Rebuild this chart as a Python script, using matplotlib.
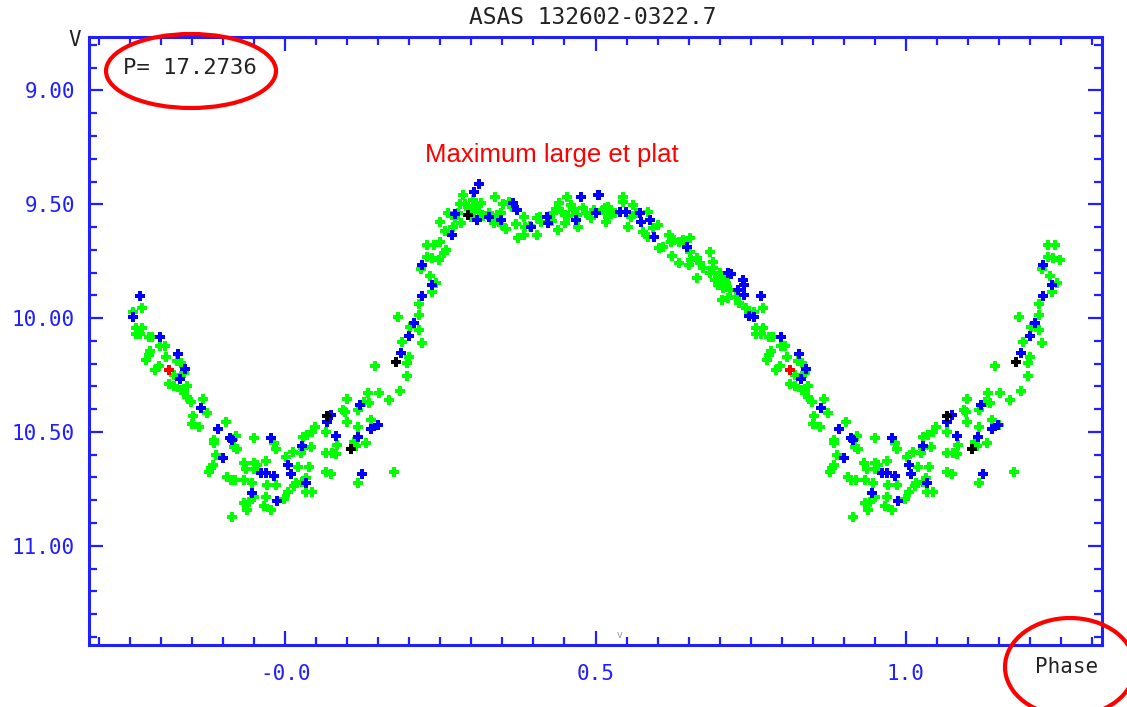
import matplotlib.pyplot as plt
import numpy as np
from matplotlib.patches import Ellipse

# phase-folded points (phase in [0, 1), V magnitude)
green_pts = [
    (0.002, 10.609), (0.005, 10.763), (0.012, 10.587), (0.015, 10.737), (0.017, 10.726),
    (0.020, 10.653), (0.025, 10.594), (0.027, 10.719), (0.028, 10.572), (0.028, 10.521),
    (0.033, 10.704), (0.034, 10.763), (0.036, 10.513), (0.038, 10.653), (0.041, 10.565),
    (0.044, 10.763), (0.044, 10.499), (0.048, 10.477), (0.066, 10.499), (0.066, 10.594),
    (0.066, 10.675), (0.074, 10.685), (0.076, 10.594), (0.082, 10.597), (0.084, 10.557),
    (0.094, 10.404), (0.097, 10.411), (0.099, 10.357), (0.099, 10.455), (0.111, 10.543),
    (0.114, 10.562), (0.118, 10.477), (0.118, 10.404), (0.118, 10.723), (0.127, 10.367),
    (0.131, 10.547), (0.133, 10.330), (0.135, 10.374), (0.138, 10.448), (0.144, 10.210),
    (0.150, 10.470), (0.152, 10.327), (0.168, 10.360), (0.175, 10.676), (0.182, 9.993),
    (0.185, 10.319), (0.189, 10.103), (0.196, 10.253), (0.197, 10.198), (0.200, 10.169),
    (0.201, 10.040), (0.215, 10.052), (0.215, 9.986), (0.215, 9.938), (0.219, 9.785),
    (0.220, 10.110), (0.229, 9.732), (0.229, 9.678), (0.233, 9.815), (0.236, 9.884),
    (0.237, 9.737), (0.240, 9.678), (0.243, 9.847), (0.248, 9.744), (0.250, 9.664),
    (0.250, 9.576), (0.256, 9.715), (0.258, 9.617), (0.259, 9.700), (0.262, 9.539),
    (0.270, 9.598), (0.273, 9.561), (0.278, 9.539), (0.281, 9.498), (0.284, 9.583),
    (0.286, 9.458), (0.290, 9.500), (0.297, 9.520), (0.300, 9.554), (0.302, 9.480),
    (0.305, 9.532), (0.308, 9.510), (0.313, 9.532), (0.315, 9.495), (0.318, 9.550),
    (0.329, 9.539), (0.331, 9.561), (0.337, 9.583), (0.338, 9.466), (0.342, 9.546),
    (0.347, 9.539), (0.350, 9.590), (0.351, 9.498), (0.356, 9.609), (0.361, 9.492),
    (0.365, 9.513), (0.372, 9.586), (0.375, 9.649), (0.385, 9.634), (0.385, 9.554),
    (0.387, 9.598), (0.394, 9.595), (0.406, 9.561), (0.406, 9.634), (0.410, 9.554),
    (0.412, 9.576), (0.426, 9.568), (0.430, 9.575), (0.431, 9.539), (0.437, 9.521),
    (0.439, 9.612), (0.442, 9.495), (0.446, 9.532), (0.451, 9.583), (0.454, 9.466),
    (0.455, 9.550), (0.461, 9.502), (0.463, 9.521), (0.470, 9.545), (0.472, 9.598),
    (0.480, 9.517), (0.485, 9.539), (0.493, 9.561), (0.498, 9.524), (0.512, 9.524),
    (0.515, 9.517), (0.517, 9.576), (0.520, 9.510), (0.520, 9.554), (0.525, 9.532),
    (0.531, 9.539), (0.544, 9.466), (0.544, 9.488), (0.552, 9.598), (0.557, 9.554),
    (0.560, 9.502), (0.565, 9.539), (0.576, 9.620), (0.584, 9.532), (0.584, 9.642),
    (0.592, 9.605), (0.600, 9.590), (0.603, 9.693), (0.609, 9.686), (0.619, 9.634),
    (0.622, 9.664), (0.623, 9.727), (0.627, 9.656), (0.635, 9.664), (0.635, 9.756),
    (0.641, 9.656), (0.651, 9.766), (0.652, 9.649), (0.652, 9.708), (0.654, 9.744),
    (0.663, 9.737), (0.664, 9.825), (0.668, 9.759), (0.673, 9.781), (0.684, 9.708),
    (0.684, 9.803), (0.689, 9.752), (0.689, 9.781), (0.692, 9.832), (0.697, 9.854),
    (0.700, 9.803), (0.703, 9.825), (0.703, 9.920), (0.706, 9.869), (0.708, 9.832),
    (0.711, 9.847), (0.713, 9.913), (0.716, 9.876), (0.727, 9.906), (0.731, 9.935),
    (0.742, 9.956), (0.747, 9.978), (0.755, 9.974), (0.759, 10.042), (0.759, 10.071),
    (0.766, 10.071), (0.770, 9.954), (0.770, 10.042), (0.776, 10.184), (0.780, 10.081),
    (0.780, 10.162), (0.783, 10.143), (0.786, 10.081), (0.790, 10.228), (0.797, 10.209),
    (0.799, 10.121), (0.806, 10.121), (0.808, 10.172), (0.813, 10.290), (0.821, 10.250),
    (0.821, 10.298), (0.826, 10.190), (0.832, 10.198), (0.832, 10.316), (0.837, 10.242),
    (0.837, 10.330), (0.842, 10.298), (0.842, 10.348), (0.848, 10.367), (0.850, 10.467),
    (0.852, 10.430), (0.861, 10.477), (0.868, 10.355), (0.874, 10.418), (0.877, 10.675),
    (0.881, 10.660), (0.884, 10.645), (0.885, 10.535), (0.885, 10.550), (0.889, 10.600),
    (0.904, 10.458), (0.907, 10.697), (0.912, 10.711), (0.915, 10.875), (0.918, 10.565),
    (0.920, 10.711), (0.921, 10.516), (0.923, 10.576), (0.933, 10.635), (0.934, 10.711),
    (0.934, 10.814), (0.937, 10.664), (0.939, 10.843), (0.942, 10.807), (0.947, 10.723),
    (0.950, 10.525), (0.950, 10.635), (0.950, 10.664), (0.950, 10.785), (0.955, 10.645),
    (0.966, 10.826), (0.969, 10.626), (0.969, 10.785), (0.971, 10.733), (0.977, 10.843),
    (0.982, 10.550), (0.985, 10.576), (0.985, 10.733), (0.998, 10.796),
]

blue_pts = [
    (0.005, 10.645), (0.009, 10.685), (0.027, 10.562), (0.034, 10.726), (0.067, 10.455),
    (0.074, 10.426), (0.082, 10.518), (0.117, 10.521), (0.121, 10.382), (0.124, 10.685),
    (0.138, 10.488), (0.149, 10.470), (0.186, 10.152), (0.200, 10.077), (0.208, 10.022),
    (0.221, 9.902), (0.221, 9.766), (0.236, 9.854), (0.269, 9.637), (0.273, 9.543),
    (0.305, 9.448), (0.309, 9.571), (0.313, 9.410), (0.328, 9.554), (0.348, 9.571),
    (0.367, 9.495), (0.373, 9.527), (0.396, 9.601), (0.422, 9.554), (0.423, 9.583),
    (0.469, 9.568), (0.476, 9.469), (0.501, 9.539), (0.504, 9.458), (0.506, 9.458),
    (0.539, 9.532), (0.549, 9.532), (0.571, 9.539), (0.573, 9.576), (0.587, 9.568),
    (0.595, 9.642), (0.647, 9.686), (0.713, 9.803), (0.719, 9.806), (0.730, 9.876),
    (0.738, 9.832), (0.740, 9.854), (0.740, 9.898), (0.747, 9.990), (0.755, 9.996),
    (0.766, 9.902), (0.799, 10.081), (0.828, 10.157), (0.831, 10.267), (0.839, 10.225),
    (0.864, 10.396), (0.892, 10.486), (0.900, 10.616), (0.911, 10.528), (0.915, 10.535),
    (0.946, 10.770), (0.961, 10.682), (0.969, 10.682), (0.977, 10.525), (0.982, 10.694),
    (0.987, 10.804),
]

black_pts = [(0.067, 10.430), (0.106, 10.576), (0.178, 10.191), (0.295, 9.546)]
red_pts = [(0.813, 10.228)]

title = "ASAS 132602-0322.7"
period_text = "P= 17.2736"
note_text = "Maximum large et plat"
x_ticks = [0.0, 0.5, 1.0]
x_ticklabels = ["-0.0", "0.5", "1.0"]
y_ticks = [9.0, 9.5, 10.0, 10.5, 11.0]
y_ticklabels = ["9.00", "9.50", "10.00", "10.50", "11.00"]

W, H = 1127, 707
axis_blue = "#1f1fff"
mono = "DejaVu Sans Mono"


def folded(pts):
    # draw each point at its phase, plus the wrapped copy near the edges
    a = np.array(pts)
    ph, mag = a[:, 0], a[:, 1]
    lo = ph >= 0.75
    hi = ph < 0.25
    x = np.concatenate([ph, ph[lo] - 1, ph[hi] + 1])
    y = np.concatenate([mag, mag[lo], mag[hi]])
    return x, y


fig = plt.figure(figsize=(W / 100, H / 100), dpi=100)
ax = fig.add_axes([89 / W, 1 - 645 / H, (1102 - 89) / W, (645 - 37) / H])

for pts, col in [(green_pts, "#00ff00"), (blue_pts, "#0000ff"),
                 (black_pts, "#000000"), (red_pts, "#ff0000")]:
    x, y = folded(pts)
    ax.plot(x, y, linestyle="none", marker="P", markersize=6.8,
            markeredgewidth=0, color=col)

ax.set_xlim(-0.316, 1.316)
ax.set_ylim(11.436, 8.765)

ax.set_xticks(x_ticks)
ax.set_xticklabels(x_ticklabels)
ax.set_xticks(np.arange(-0.3, 1.31, 0.05), minor=True)
ax.set_yticks(y_ticks)
ax.set_yticklabels(y_ticklabels)
ax.set_yticks(np.arange(8.8, 11.41, 0.1), minor=True)

ax.tick_params(which="both", direction="in", top=True, right=True,
               color=axis_blue, width=1.6, labelcolor=axis_blue)
ax.tick_params(which="major", length=10)
ax.tick_params(which="minor", length=6)
ax.tick_params(axis="x", pad=14)
ax.tick_params(axis="y", pad=10)
for lab in ax.get_xticklabels() + ax.get_yticklabels():
    lab.set_fontfamily(mono)
    lab.set_fontsize(15)
for sp in ax.spines.values():
    sp.set_color(axis_blue)
    sp.set_linewidth(2.2)

fig.text(593 / W, 1 - 18 / H, title, ha="center", va="center",
         fontsize=16.5, family=mono, color="#222222")
fig.text(75 / W, 1 - 40 / H, "V", ha="center", va="center",
         fontsize=15, family=mono, color="#222222")
fig.text(123 / W, 1 - 68 / H, period_text, ha="left", va="center",
         fontsize=16, family=mono, color="#222222")
fig.text(1067 / W, 1 - 667 / H, "Phase", ha="center", va="center",
         fontsize=15, family=mono, color="#222222")
fig.text(620 / W, 1 - 635 / H, "v", ha="center", va="center",
         fontsize=7, color="#999999")
fig.text(425 / W, 1 - 155 / H, note_text, ha="left", va="center",
         fontsize=18.5, family="Liberation Sans", color="#ff0000")

# hand-drawn red ellipses
for cx, cy, w, h in [(191, 71, 170, 74), (1070, 667, 130, 98)]:
    fig.add_artist(Ellipse((cx / W, 1 - cy / H), w / W, h / H,
                           transform=fig.transFigure, fill=False,
                           edgecolor="#ff0000", linewidth=3, clip_on=False))

fig.savefig("out.png", dpi=100)
